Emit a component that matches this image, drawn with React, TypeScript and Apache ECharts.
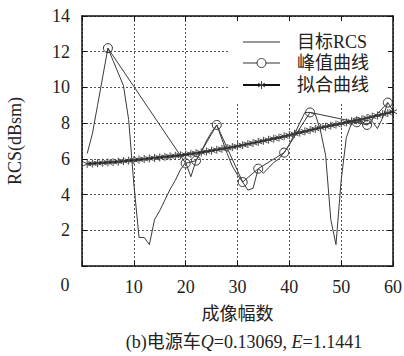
import React, { useEffect, useRef } from "react";
import * as echarts from "echarts";

const SERIF = '"Liberation Serif", "Times New Roman", "Noto Sans CJK SC", serif';
const CJK = '"Noto Sans CJK SC", "Liberation Serif", sans-serif';

const xTicks = [0, 10, 20, 30, 40, 50, 60];
const yTicks = [0, 2, 4, 6, 8, 10, 12, 14];

// 目标RCS, frames 1..60
const targetRCS = [
  6.3, 7.4, 9.0, 10.6, 12.2, 11.5, 10.8, 10.1, 8.2, 4.6,
  1.6, 1.6, 1.2, 2.6, 3.1, 3.7, 4.3, 4.8, 5.4, 5.8,
  5.0, 5.9, 6.4, 7.0, 7.5, 7.9, 7.1, 6.3, 5.6, 5.1,
  4.7, 4.25, 4.35, 5.45, 5.2, 5.5, 5.8, 6.0, 6.35, 6.8,
  7.4, 8.0, 8.6, 8.6, 8.5, 7.6, 6.2, 2.6, 1.2, 4.8,
  7.2, 8.0, 8.05, 8.1, 7.9, 8.1, 7.7, 8.3, 9.15, 8.7,
];

// 峰值曲线
const peakX = [5, 20, 22, 26, 31, 34, 39, 44, 53, 55, 59];
const peakY = [12.2, 5.75, 5.9, 7.9, 4.7, 5.45, 6.35, 8.6, 8.05, 7.9, 9.15];

// 拟合曲线, frames 1..60
const fitCurve = [
  5.72, 5.74, 5.76, 5.78, 5.80, 5.82, 5.84, 5.87, 5.90, 5.93,
  5.96, 5.99, 6.02, 6.05, 6.08, 6.11, 6.14, 6.17, 6.20, 6.24,
  6.28, 6.32, 6.36, 6.41, 6.46, 6.51, 6.56, 6.61, 6.66, 6.71,
  6.77, 6.83, 6.89, 6.95, 7.01, 7.07, 7.13, 7.19, 7.26, 7.33,
  7.40, 7.47, 7.54, 7.61, 7.68, 7.74, 7.80, 7.86, 7.92, 7.98,
  8.04, 8.10, 8.16, 8.22, 8.29, 8.36, 8.43, 8.50, 8.57, 8.64,
];

const legendNames = ["目标RCS", "峰值曲线", "拟合曲线"];

const STAR = "path://M5,0L5,10M0.67,2.5L9.33,7.5M0.67,7.5L9.33,2.5";

export default function App() {
  const ref = useRef<HTMLDivElement>(null);
  useEffect(() => {
    if (!ref.current) return;
    const chart = echarts.init(ref.current, null, { renderer: "svg" });
    const xMin = xTicks[0];
    const xMax = xTicks[xTicks.length - 1];
    const xInt = xTicks[1] - xTicks[0];
    const yMin = yTicks[0];
    const yMax = yTicks[yTicks.length - 1];
    const yInt = yTicks[1] - yTicks[0];
    const frameLine = { show: true, onZero: false, lineStyle: { color: "#111", width: 1.5 } };
    const frameTick = { show: true, inside: true, length: 5, lineStyle: { color: "#111", width: 1 } };
    const split = { show: true, lineStyle: { color: "#555", type: [2, 2], width: 1 } };
    const frameX = (pos: string) => ({
      type: "value", position: pos, min: xMin, max: xMax, interval: xInt, z: 3,
      axisLine: frameLine, axisTick: frameTick, axisLabel: { show: false }, splitLine: { show: false },
    });
    const frameY = (pos: string) => ({
      type: "value", position: pos, min: yMin, max: yMax, interval: yInt, z: 3,
      axisLine: frameLine, axisTick: frameTick, axisLabel: { show: false }, splitLine: { show: false },
    });
    const rowY = [42, 63, 85];
    const lx0 = 243, lx1 = 280, lxc = 261.5, tx = 297;
    const legendEls: any[] = [
      { type: "rect", shape: { x: 228, y: 17, width: 164, height: 87 }, style: { fill: "#fff" }, z: 1 },
    ];
    rowY.forEach((y, i) => {
      legendEls.push({ type: "line", shape: { x1: lx0, y1: y, x2: lx1, y2: y }, style: { stroke: i === 2 ? "#111" : "#333", lineWidth: i === 2 ? 2 : 1 }, z: 5 });
      legendEls.push({
        type: "text", x: tx, y: y, z: 5,
        style: { text: legendNames[i], fontFamily: SERIF, fontSize: 18, fill: "#222", align: "left", verticalAlign: "middle" },
      });
    });
    legendEls.push({ type: "circle", shape: { cx: lxc, cy: rowY[1], r: 4.5 }, style: { fill: "#fff", stroke: "#333", lineWidth: 1 }, z: 6 });
    const sy = rowY[2];
    legendEls.push({ type: "line", shape: { x1: lxc, y1: sy - 4, x2: lxc, y2: sy + 4 }, style: { stroke: "#444", lineWidth: 1 }, z: 6 });
    legendEls.push({ type: "line", shape: { x1: lxc - 3.5, y1: sy - 2, x2: lxc + 3.5, y2: sy + 2 }, style: { stroke: "#444", lineWidth: 1 }, z: 6 });
    legendEls.push({ type: "line", shape: { x1: lxc - 3.5, y1: sy + 2, x2: lxc + 3.5, y2: sy - 2 }, style: { stroke: "#444", lineWidth: 1 }, z: 6 });
    legendEls.push({
      type: "text", x: 65, y: 285, z: 5,
      style: { text: "0", fontFamily: SERIF, fontSize: 18, fill: "#222", align: "center", verticalAlign: "middle" },
    });
    legendEls.push({
      type: "text", x: 244, y: 342, z: 5,
      style: {
        text: "(b)电源车{i|Q}=0.13069, {i|E}=1.1441",
        fontFamily: SERIF, fontSize: 18, fill: "#222", align: "center", verticalAlign: "middle",
        rich: { i: { fontFamily: SERIF, fontStyle: "italic", fontSize: 18, fill: "#222" } },
      },
    });

    chart.setOption({
      animation: false,
      backgroundColor: "#fff",
      grid: { left: 82, right: 11, top: 16, bottom: 90, outerBoundsMode: "none" },
      xAxis: [
        {
          type: "value", position: "bottom", min: xMin, max: xMax, interval: xInt, z: 0,
          axisLine: { show: false, onZero: false }, axisTick: { show: false },
          axisLabel: { margin: 12, color: "#222", fontFamily: SERIF, fontSize: 18, formatter: (v: number) => (v === 0 ? "" : String(v)) },
          splitLine: split,
          name: "成像幅数", nameLocation: "middle", nameGap: 37,
          nameTextStyle: { fontFamily: CJK, fontSize: 18, color: "#222" },
        },
        frameX("bottom"),
        frameX("top"),
      ],
      yAxis: [
        {
          type: "value", position: "left", min: yMin, max: yMax, interval: yInt, z: 0,
          axisLine: { show: false, onZero: false }, axisTick: { show: false },
          axisLabel: { margin: 12, color: "#222", fontFamily: SERIF, fontSize: 18, formatter: (v: number) => (v === 0 ? "" : String(v)) },
          splitLine: split,
          name: "RCS(dBsm)", nameLocation: "middle", nameGap: 58,
          nameTextStyle: { fontFamily: SERIF, fontSize: 18, color: "#222" },
        },
        frameY("left"),
        frameY("right"),
      ],
      graphic: legendEls,
      series: [
        {
          name: legendNames[0], type: "line", xAxisIndex: 0, yAxisIndex: 0, z: 2,
          data: targetRCS.map((v, i) => [i + 1, v]),
          symbol: "none", lineStyle: { color: "#3a3a3a", width: 1 },
        },
        {
          name: legendNames[1], type: "line", xAxisIndex: 0, yAxisIndex: 0, z: 2,
          data: peakX.map((x, i) => [x, peakY[i]]),
          symbol: "circle", symbolSize: 9,
          itemStyle: { color: "rgba(0,0,0,0)", borderColor: "#333", borderWidth: 1 },
          lineStyle: { color: "#3a3a3a", width: 1 },
        },
        {
          name: legendNames[2], type: "line", xAxisIndex: 0, yAxisIndex: 0, z: 2,
          data: fitCurve.map((v, i) => [i + 1, v]),
          symbol: STAR, symbolSize: 8,
          itemStyle: { color: "rgba(0,0,0,0)", borderColor: "#444", borderWidth: 1 },
          lineStyle: { color: "#111", width: 2.2 },
        },
      ],
    });
    return () => chart.dispose();
  }, []);
  return <div ref={ref} style={{ position: "fixed", left: 0, top: 0, width: 404, height: 356 }} />;
}
